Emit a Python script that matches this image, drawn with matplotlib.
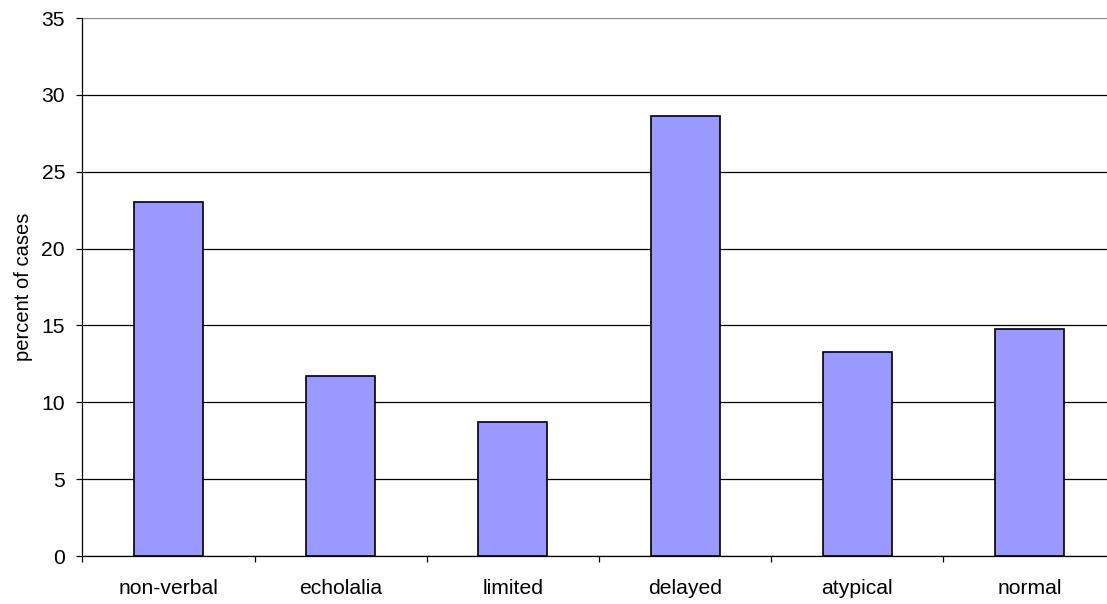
import matplotlib
matplotlib.use("Agg")
import matplotlib.pyplot as plt
from matplotlib.ticker import FixedLocator

plt.rcParams['font.family'] = ['Liberation Sans', 'DejaVu Sans']

categories = ["non-verbal", "echolalia", "limited", "delayed", "atypical", "normal"]
percent = [23.0, 11.7, 8.7, 28.6, 13.3, 14.8]
y_ticks = [0, 5, 10, 15, 20, 25, 30, 35]

fig = plt.figure(figsize=(11.07, 6.04), dpi=100)
ax = fig.add_axes([82.4 / 1107, 48 / 604, 1033.2 / 1107, 538 / 604])

x = list(range(len(categories)))
ax.bar(x, percent, width=0.40, color="#9999FF", edgecolor="#000000",
       linewidth=1.2, zorder=3)

ax.set_ylim(0, 35)
ax.set_xlim(-0.5, len(categories) - 0.5)
ax.set_yticks(y_ticks)
ax.yaxis.grid(True, color="black", linewidth=0.9, zorder=0)
ax.set_axisbelow(True)
# the 35 line is drawn lighter at the top edge of the plot
ax.get_ygridlines()[-1].set_color("#888888")

ax.set_xticks(x)
ax.set_xticklabels(categories)
ax.xaxis.set_minor_locator(FixedLocator([i - 0.5 for i in range(len(categories) + 1)]))
ax.tick_params(axis="x", which="major", length=0, pad=16.5, labelsize=15.2)
ax.tick_params(axis="x", which="minor", length=4.5, width=0.9, direction="out")
ax.tick_params(axis="y", length=4.5, width=0.9, pad=8, labelsize=15.2)

for side in ("top", "right"):
    ax.spines[side].set_visible(False)
for side in ("left", "bottom"):
    ax.spines[side].set_linewidth(0.9)

ax.set_ylabel("percent of cases", fontsize=14.5, labelpad=6)

fig.savefig("out.png", dpi=100)
